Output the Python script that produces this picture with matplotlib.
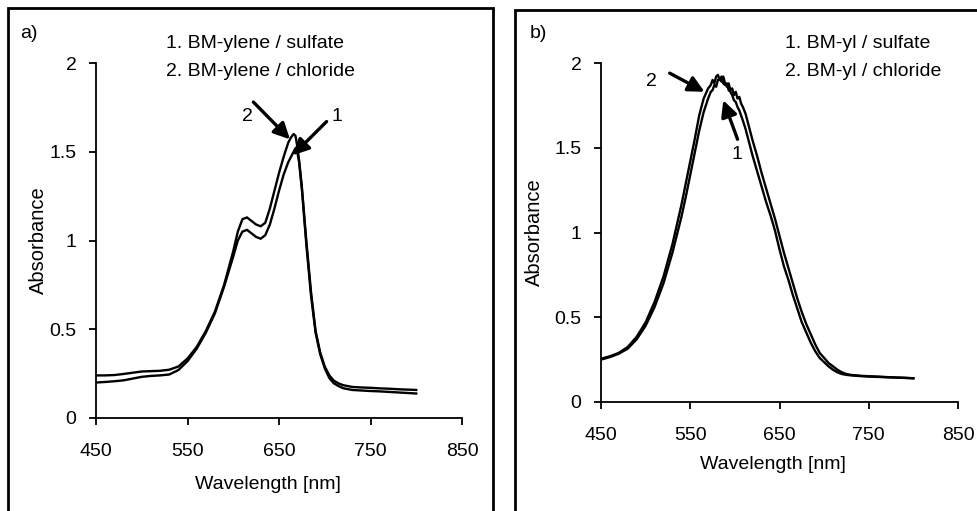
import matplotlib
matplotlib.use("Agg")
import matplotlib.pyplot as plt
from matplotlib.patches import Rectangle

plt.rcParams['font.family'] = ['Liberation Sans', 'DejaVu Sans']

# a) BM-ylene
wl_a = [450, 460, 470, 480, 490, 500, 510, 520, 530, 540, 550, 560, 570, 580, 590, 600,
        605, 610, 615, 620, 625, 630, 635, 640, 645, 650, 655, 660, 663, 666, 668, 670, 672,
        675, 680, 685, 690, 695, 700, 705, 710, 715, 720, 730, 740, 750, 760, 770, 780, 790, 800]
a_sulfate = [0.20, 0.203, 0.207, 0.212, 0.222, 0.232, 0.237, 0.24, 0.245, 0.27, 0.32, 0.39, 0.48, 0.59, 0.74, 0.91,
             1.00, 1.05, 1.06, 1.04, 1.02, 1.01, 1.03, 1.09, 1.18, 1.28, 1.37, 1.44, 1.47, 1.50, 1.52, 1.50, 1.44,
             1.29, 0.97, 0.69, 0.48, 0.36, 0.28, 0.225, 0.195, 0.18, 0.168, 0.158, 0.155, 0.152, 0.15, 0.147, 0.144, 0.141, 0.138]
a_chloride = [0.24, 0.24, 0.242, 0.248, 0.255, 0.262, 0.264, 0.266, 0.272, 0.29, 0.335, 0.40, 0.49, 0.60, 0.75, 0.94,
              1.05, 1.12, 1.13, 1.11, 1.09, 1.08, 1.10, 1.18, 1.28, 1.38, 1.47, 1.55, 1.58, 1.60, 1.59, 1.53, 1.45,
              1.30, 0.99, 0.71, 0.49, 0.37, 0.29, 0.24, 0.21, 0.195, 0.185, 0.175, 0.172, 0.17, 0.167, 0.165, 0.162, 0.16, 0.158]

# b) BM-yl
wl_b = [450, 460, 470, 480, 490, 500, 510, 520, 530, 540, 545, 550, 555, 560, 565, 570,
        573, 575, 577, 579, 581, 583, 585, 587, 589, 591, 593, 595, 597, 599, 601, 603, 605, 607, 609,
        612, 615, 620, 625, 630, 635, 640, 645, 650, 655, 660, 665, 670, 675, 680, 685, 690, 695, 700,
        705, 710, 715, 720, 725, 730, 740, 750, 760, 770, 780, 790, 800]
b_sulfate = [0.25, 0.265, 0.285, 0.315, 0.37, 0.45, 0.56, 0.70, 0.88, 1.09, 1.21, 1.34, 1.47, 1.60, 1.71, 1.79,
             1.83, 1.84, 1.87, 1.86, 1.90, 1.91, 1.89, 1.92, 1.88, 1.86, 1.88, 1.84, 1.85, 1.81, 1.83, 1.79, 1.80, 1.76, 1.74,
             1.70, 1.64, 1.54, 1.45, 1.35, 1.26, 1.17, 1.08, 0.98, 0.88, 0.79, 0.70, 0.61, 0.53, 0.46, 0.40, 0.34, 0.29, 0.26,
             0.23, 0.21, 0.19, 0.175, 0.165, 0.16, 0.155, 0.152, 0.15, 0.147, 0.145, 0.143, 0.14]
b_chloride = [0.255, 0.27, 0.29, 0.325, 0.385, 0.47, 0.59, 0.74, 0.93, 1.16, 1.29, 1.42, 1.55, 1.69, 1.79, 1.85,
              1.87, 1.90, 1.88, 1.92, 1.93, 1.90, 1.92, 1.88, 1.87, 1.88, 1.84, 1.83, 1.81, 1.78, 1.77, 1.74, 1.72, 1.69, 1.66,
              1.61, 1.55, 1.45, 1.36, 1.27, 1.18, 1.10, 1.01, 0.90, 0.80, 0.72, 0.63, 0.55, 0.47, 0.41, 0.35, 0.30, 0.26, 0.235,
              0.21, 0.19, 0.175, 0.165, 0.16, 0.157, 0.153, 0.15, 0.148, 0.146, 0.144, 0.142, 0.14]

x_ticks = [450, 550, 650, 750, 850]
y_ticks = [0, 0.5, 1, 1.5, 2]
y_ticklabels = ['0', '0.5', '1', '1.5', '2']

W, H = 977, 511
fig = plt.figure(figsize=(W / 100, H / 100), dpi=100)


def px_box(x0, x1, ytop, ybot):
    return [x0 / W, 1 - ybot / H, (x1 - x0) / W, (ybot - ytop) / H]


ax_a = fig.add_axes(px_box(96, 462, 63, 418))
ax_b = fig.add_axes(px_box(601, 958, 63, 402))

arrow = dict(arrowstyle='-|>', color='black', lw=2.4, mutation_scale=24, shrinkA=0, shrinkB=0)

for ax, wl, s1, s2 in [(ax_a, wl_a, a_sulfate, a_chloride), (ax_b, wl_b, b_sulfate, b_chloride)]:
    ax.plot(wl, s1, color='black', lw=1.7)
    ax.plot(wl, s2, color='black', lw=1.7)
    ax.set_xlim(450, 850)
    ax.set_ylim(0, 2)
    ax.set_xticks(x_ticks)
    ax.set_yticks(y_ticks)
    ax.set_yticklabels(y_ticklabels)
    for sp in ['top', 'right']:
        ax.spines[sp].set_visible(False)
    for sp in ['left', 'bottom']:
        ax.spines[sp].set_linewidth(1.3)
    ax.tick_params(axis='both', direction='out', length=5, width=1.3, labelsize=14)
    ax.tick_params(axis='x', pad=13)
    ax.tick_params(axis='y', pad=9)
    ax.set_xlabel('Wavelength [nm]', fontsize=14)
    ax.set_ylabel('Absorbance', fontsize=14.5)

ax_a.xaxis.set_label_coords(0.47, -0.163)
ax_a.yaxis.set_label_coords(-0.13, 0.5)
ax_b.xaxis.set_label_coords(0.483, -0.159)
ax_b.yaxis.set_label_coords(-0.16, 0.5)

# arrows a)
ax_a.annotate('', xy=(662, 1.57), xytext=(622, 1.78), arrowprops=arrow)
ax_a.annotate('', xy=(665, 1.48), xytext=(702, 1.67), arrowprops=arrow)
ax_a.text(615, 1.70, '2', fontsize=14, ha='center', va='center')
ax_a.text(713, 1.70, '1', fontsize=14, ha='center', va='center')

# arrows b)
ax_b.annotate('', xy=(566, 1.83), xytext=(527, 1.94), arrowprops=arrow)
ax_b.annotate('', xy=(587, 1.78), xytext=(603, 1.55), arrowprops=arrow)
ax_b.text(507, 1.89, '2', fontsize=14, ha='center', va='center')
ax_b.text(602, 1.46, '1', fontsize=14, ha='center', va='center')

# legend texts and panel letters
fig.text(166 / W, 1 - 43 / H, '1. BM-ylene / sulfate', fontsize=14, va='center')
fig.text(166 / W, 1 - 72 / H, '2. BM-ylene / chloride', fontsize=14, va='center')
fig.text(785 / W, 1 - 43 / H, '1. BM-yl / sulfate', fontsize=14, va='center')
fig.text(785 / W, 1 - 72 / H, '2. BM-yl / chloride', fontsize=14, va='center')
fig.text(20 / W, 1 - 34 / H, 'a)', fontsize=14, va='center')
fig.text(530 / W, 1 - 33 / H, 'b)', fontsize=14, va='center')

# panel frames
fig.add_artist(Rectangle((7.5 / W, -0.1), (493 - 7.5) / W, 1.1 - 8 / H,
                         transform=fig.transFigure, fill=False, lw=2, ec='black'))
fig.add_artist(Rectangle((515 / W, -0.1), 0.6, 1.1 - 10 / H,
                         transform=fig.transFigure, fill=False, lw=2, ec='black'))

fig.savefig('out.png', dpi=100)
